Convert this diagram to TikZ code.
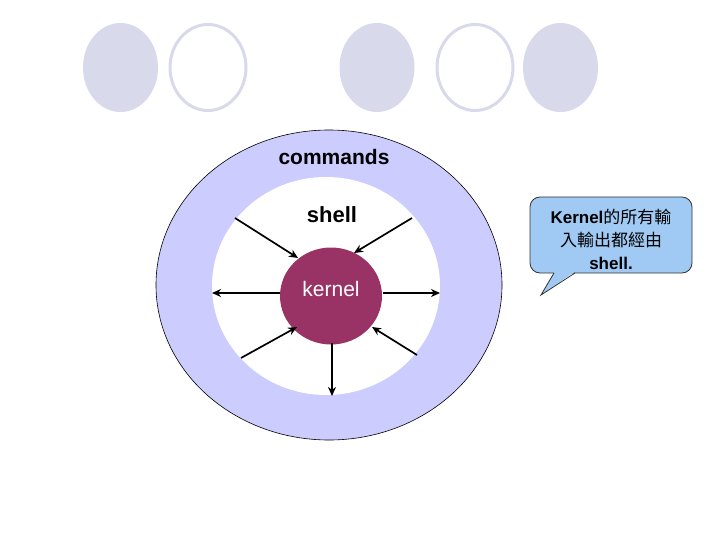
\documentclass[tikz,border=0pt]{standalone}
\usepackage{fontspec}
\setmainfont{Liberation Sans}
\newfontfamily\cjk{Noto Sans CJK TC}
\usetikzlibrary{arrows.meta,shapes.geometric}
\definecolor{ringblue}{RGB}{204,204,255}
\definecolor{kernelred}{RGB}{153,51,102}
\definecolor{lav}{RGB}{217,217,236}
\definecolor{bubble}{RGB}{160,202,244}
\tikzset{
  dotfill/.style={ellipse, fill=lav, minimum width=75pt, minimum height=89pt, inner sep=0pt},
  dotring/.style={ellipse, draw=lav, line width=3pt, minimum width=76pt, minimum height=86pt, inner sep=0pt},
  flow/.style={line width=1.7pt, -{Stealth[length=9pt,width=8pt]}},
}
\begin{document}
\begin{tikzpicture}[x=1pt,y=-1pt]
\useasboundingbox (0,0) rectangle (720,540);
% top decorative circles
\node[dotfill] (d1) at (120.5,67.5) {};
\node[dotring] (d2) at (208,67.5) {};
\node[dotfill] (d3) at (377,67.5) {};
\node[dotring] (d4) at (475,67.5) {};
\node[dotfill] (d5) at (560.5,67.5) {};
% rings
\node[ellipse, draw=black, line width=0.6pt, fill=ringblue, minimum width=346pt, minimum height=310pt, inner sep=0pt] (outer) at (329,285) {};
\node[ellipse, fill=white, minimum width=228pt, minimum height=218pt, inner sep=0pt] (inner) at (326,286) {};
\node[ellipse, fill=kernelred, minimum width=102pt, minimum height=97pt, inner sep=0pt] (kernel) at (331,296) {};
% texts
\node[font=\fontsize{21}{25}\selectfont\bfseries] (cmd) at (334,157) {commands};
\node[font=\fontsize{22}{26}\selectfont\bfseries] (shell) at (332,215) {shell};
\node[font=\fontsize{21}{25}\selectfont, text=white] (ktext) at (331,289) {kernel};
% arrow end points
\coordinate (a1) at (235,218);
\coordinate (a2) at (412,218);
\coordinate (a3) at (212,293);
\coordinate (a4) at (440,293);
\coordinate (a5) at (241,358);
\coordinate (a6) at (417,355);
\coordinate (a7) at (332,396);
\coordinate (k1) at (298,258);
\coordinate (k2) at (354,253);
\coordinate (k3) at (280,293);
\coordinate (k4) at (383,293);
\coordinate (k5) at (297,327);
\coordinate (k6) at (372,327);
\coordinate (k7) at (332,343);
\draw[flow] (a1) -- (k1);
\draw[flow] (a2) -- (k2);
\draw[flow] (k3) -- (a3);
\draw[flow] (k4) -- (a4);
\draw[flow] (a5) -- (k5);
\draw[flow] (a6) -- (k6);
\draw[flow] (k7) -- (a7);
% callout
\node[draw=black!80, line width=0.8pt, fill=bubble, rounded corners=10pt, minimum width=162pt, minimum height=76pt, inner sep=0pt] (callout) at (611,235) {};
\coordinate (tip) at (541,295);
\coordinate (tb1) at (554,273);
\coordinate (tb2) at (575,273);
\fill[bubble] (554.3,271.8) -- (574.7,271.8) -- (tip) -- cycle;
\draw[black!80, line width=0.8pt, line join=miter] (tb1) -- (tip) -- (tb2);
\node[align=center, font=\fontsize{17}{23}\selectfont] (ctext) at (611,239)
  {{\bfseries Kernel}{\cjk 的所有輸}\\{\cjk 入輸出都經由}\\{\bfseries shell.}};
\end{tikzpicture}
\end{document}
